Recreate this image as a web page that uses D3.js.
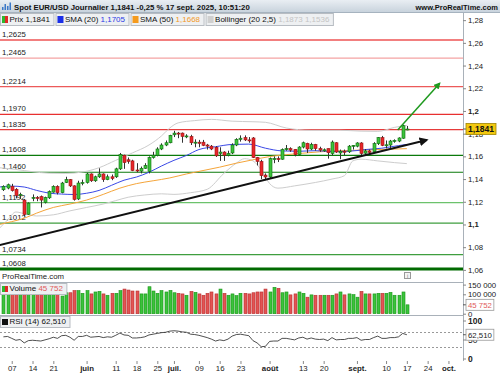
<!DOCTYPE html>
<html>
<head>
<meta charset="utf-8">
<script src="https://cdn.jsdelivr.net/npm/d3@7"></script>
<style>
body { margin: 0; background: #fff; }
svg { font-family: "Liberation Sans", Arial, sans-serif; font-size: 7.5px; }
</style>
</head>
<body>
<script>
//daily candles, one per trading day, starting Mon 5 May 2025 (index 0)
var open = [1.1306,1.1321,1.1336,1.1310,1.1255,1.1215,1.1090,1.1230,1.1238,1.1245,1.1195,1.1235,1.1285,1.1335,1.1280,1.1370,1.1395,1.1340,1.1225,1.1365,
    1.1370,1.1445,1.1385,1.1420,1.1445,1.1395,1.1420,1.1420,1.1490,1.1610,1.1570,1.1560,1.1480,1.1470,1.1495,1.1468,1.1590,1.1610,1.1665,1.1700,
    1.1720,1.1790,1.1805,1.1805,1.1775,1.1775,1.1720,1.1725,1.1725,1.1700,1.1690,1.1680,1.1625,1.1638,1.1610,1.1630,1.1700,1.1750,1.1765,1.1745,
    1.1762,1.1590,1.1555,1.1435,1.1418,1.1575,1.1580,1.1575,1.1660,1.1668,1.1662,1.1615,1.1682,1.1715,1.1665,1.1705,1.1668,1.1650,1.1668,1.1625,
    1.1720,1.1630,1.1645,1.1640,1.1690,1.1690,1.1718,1.1628,1.1648,1.1640,1.1712,1.1765,1.1697,1.1700,1.1735,1.1735,1.1760,1.1835];
var high = [1.1345,1.1360,1.1358,1.1320,1.1280,1.1225,1.1195,1.1265,1.1250,1.1255,1.1245,1.1300,1.1345,1.1345,1.1375,1.1420,1.1400,1.1345,1.1385,1.1395,
    1.1455,1.1450,1.1430,1.1495,1.1450,1.1440,1.1440,1.1500,1.1630,1.1615,1.1590,1.1570,1.1540,1.1510,1.1540,1.1600,1.1640,1.1680,1.1715,1.1740,
    1.1790,1.1825,1.1815,1.1810,1.1795,1.1790,1.1750,1.1745,1.1745,1.1710,1.1700,1.1690,1.1680,1.1645,1.1650,1.1715,1.1760,1.1785,1.1785,1.1770,
    1.1770,1.1595,1.1570,1.1450,1.1590,1.1600,1.1600,1.1670,1.1700,1.1680,1.1665,1.1690,1.1730,1.1720,1.1720,1.1710,1.1685,1.1670,1.1670,1.1740,
    1.1725,1.1660,1.1660,1.1700,1.1700,1.1725,1.1725,1.1665,1.1660,1.1725,1.1770,1.1780,1.1740,1.1745,1.1750,1.1768,1.1878,1.1868];
var low = [1.1295,1.1310,1.1290,1.1230,1.1225,1.1070,1.1085,1.1205,1.1205,1.1150,1.1185,1.1225,1.1280,1.1265,1.1275,1.1365,1.1330,1.1210,1.1215,1.1345,
    1.1360,1.1375,1.1375,1.1410,1.1375,1.1390,1.1390,1.1410,1.1480,1.1490,1.1535,1.1470,1.1460,1.1450,1.1490,1.1450,1.1580,1.1600,1.1655,1.1690,
    1.1715,1.1770,1.1760,1.1720,1.1760,1.1700,1.1680,1.1680,1.1690,1.1660,1.1655,1.1595,1.1560,1.1560,1.1600,1.1620,1.1690,1.1730,1.1735,1.1720,
    1.1585,1.1520,1.1400,1.1390,1.1410,1.1540,1.1550,1.1570,1.1650,1.1640,1.1600,1.1610,1.1670,1.1630,1.1655,1.1650,1.1640,1.1640,1.1580,1.1610,
    1.1630,1.1575,1.1610,1.1630,1.1660,1.1680,1.1605,1.1610,1.1620,1.1630,1.1700,1.1690,1.1670,1.1670,1.1720,1.1725,1.1755,1.1830];
var close = [1.1336,1.1350,1.1298,1.1255,1.1265,1.1088,1.1188,1.1238,1.1232,1.1215,1.1238,1.1290,1.1335,1.1280,1.1365,1.1395,1.1340,1.1220,1.1365,1.1370,
    1.1445,1.1385,1.1420,1.1445,1.1395,1.1420,1.1405,1.1490,1.1615,1.1545,1.1555,1.1475,1.1478,1.1495,1.1520,1.1590,1.1610,1.1665,1.1700,1.1720,
    1.1785,1.1805,1.1800,1.1775,1.1780,1.1720,1.1725,1.1715,1.1697,1.1690,1.1665,1.1605,1.1638,1.1610,1.1625,1.1700,1.1750,1.1760,1.1745,1.1742,
    1.1590,1.1555,1.1430,1.1418,1.1580,1.1580,1.1575,1.1660,1.1668,1.1655,1.1615,1.1682,1.1720,1.1665,1.1705,1.1668,1.1655,1.1658,1.1632,1.1726,
    1.1638,1.1645,1.1640,1.1690,1.1697,1.1718,1.1625,1.1648,1.1635,1.1712,1.1765,1.1697,1.1702,1.1735,1.1740,1.1762,1.1870,1.1841];

//volume in thousands
var volume = [158,162,155,150,148,170,165,160,152,150,155,148,150,152,
    91,108,108,119,119,105,119,102,112,115,102,95,105,105,119,127,122,117,117,102,102,139,117,105,119,112,
    120,108,105,102,95,115,110,102,95,105,112,102,127,105,95,102,93,105,105,102,
    108,112,112,127,112,136,131,108,112,97,102,112,105,85,97,95,95,95,95,95,
    102,112,97,102,98,85,115,102,102,102,105,105,105,110,95,95,112,45.752];

var rsi = [57,58,53,48,50,41,47,48,47,46,49,52,56,53,60,61,56,48,58,58,
    61,56,57,58,55,57,56,61,67,62,61,54,54,55,57,62,64,66,68,69,
    72,73,72,70,69,64,63,61,58,55,51,46,49,47,51,59,63,64,62,60,
    47,41,31,32,45,46,46,53,53,51,49,54,56,51,54,51,50,51,47,55,
    49,50,50,53,53,55,48,50,50,55,59,53,53,55,55,57,66,62.51];

//indicator lines read at sampled day indexes: [index, value]
var sma20 = [[-1,1.1330],[2,1.1338],[5,1.1330],[8,1.1300],[11,1.1276],[14,1.1268],[17,1.1264],[20,1.1275],[23,1.1300],
    [26,1.1345],[29,1.1390],[32,1.1418],[35,1.1460],[38,1.1515],[41,1.1565],[44,1.1608],[47,1.1660],[51,1.1685],
    [55,1.1705],[59,1.1708],[63,1.1672],[67,1.1648],[71,1.1645],[75,1.1650],[79,1.1643],[83,1.1645],[87,1.1660],
    [91,1.1672],[95,1.1695],[97,1.1705]];
var sma50 = [[-1,1.1000],[2,1.1025],[5,1.1055],[8,1.1100],[12,1.1150],[16,1.1180],[20,1.1215],[24,1.1265],[28,1.1320],
    [32,1.1360],[36,1.1385],[40,1.1410],[44,1.1445],[48,1.1475],[52,1.1505],[56,1.1540],[60,1.1570],[64,1.1598],
    [68,1.1615],[72,1.1628],[76,1.1640],[80,1.1648],[84,1.1653],[88,1.1658],[92,1.1662],[97,1.1668]];
var bollUp = [[-1,1.1500],[3,1.1485],[7,1.1465],[11,1.1452],[15,1.1450],[19,1.1462],[23,1.1500],[27,1.1565],[31,1.1630],
    [35,1.1700],[38,1.1780],[40,1.1850],[42,1.1895],[46,1.1915],[50,1.1926],[55,1.1910],[60,1.1905],[63,1.1900],
    [68,1.1850],[74,1.1830],[81,1.1830],[86,1.1822],[90,1.1820],[94,1.1855],[97,1.1873]];
var bollDn = [[-1,1.0965],[1,1.1040],[3,1.1110],[5,1.1095],[8,1.1075],[12,1.1085],[16,1.1120],[20,1.1150],[24,1.1180],
    [27,1.1210],[30,1.1240],[34,1.1260],[38,1.1270],[41,1.1265],[45,1.1280],[49,1.1310],[53,1.1450],[56,1.1540],
    [58,1.1580],[60,1.1560],[62,1.1480],[64,1.1360],[66,1.1320],[70,1.1340],[75,1.1370],[79,1.1400],[82,1.1430],
    [84,1.1560],[86,1.1575],[90,1.1560],[94,1.1545],[97,1.1536]];

//support / resistance levels
var levels = [1.2625,1.2465,1.2214,1.1970,1.1835,1.1608,1.1460,1.1192,1.1012,1.0734,1.0608];

//hand drawn trend lines: [index, price]
var trendBlack = [[-2.8,1.0801],[101.8,1.1744]];
var trendGreen = [[94.8,1.1832],[104.9,1.2244]];

//axis ticks
var tickIdx = [2,7,12,20,27,32,37,41,47,52,57,64,72,77,85,92,97,102,107];
var tickLabels = ["07","14","21","juin","11","18","25","juil.","09","16","23","août","13","20","sept.","10","17","24","oct."];
var priceTicks = [1.06,1.08,1.10,1.12,1.14,1.16,1.18,1.20,1.22,1.24,1.26,1.28];
var volTicks = [0,100,150];
var rsiTicks = [0,50,100];

var lastPrice = 1.1841, lastVol = 45.752, lastRsi = 62.51;

setChart();

function setChart(){

    var width = 500, height = 375, plotW = 463;

    var fr = d3.formatLocale({decimal: ",", thousands: "\u00a0", grouping: [3], currency: ["", ""]});
    var fmtTick = fr.format(".2~f"),
        fmtLevel = fr.format(".4f"),
        fmtVol = fr.format(",d");

    var svg = d3.select("body")
        .append("svg")
        .attr("width", width)
        .attr("height", height);

    var x = d3.scaleLinear().domain([-0.82, 110.5]).range([0, plotW]);
    var y = d3.scaleLinear().domain([1.0502, 1.2863]).range([281, 13]);
    var yVol = d3.scaleLinear().domain([0, 150]).range([313.7, 284.6]);
    var yRsi = d3.scaleLinear().domain([0, 100]).range([358.5, 320.5]);

    var defs = svg.append("defs");
    defs.append("clipPath").attr("id", "clipPrice")
        .append("rect").attr("x", 0).attr("y", 13).attr("width", plotW).attr("height", 268);
    defs.append("clipPath").attr("id", "clipVol")
        .append("rect").attr("x", 0).attr("y", 282).attr("width", plotW).attr("height", 33);
    var grad = defs.append("linearGradient").attr("id", "bar").attr("x1", 0).attr("x2", 0).attr("y1", 0).attr("y2", 1);
    grad.append("stop").attr("offset", 0).attr("stop-color", "#e9eef3");
    grad.append("stop").attr("offset", 1).attr("stop-color", "#c6d1db");
    [["arrBlack", "#111"], ["arrGreen", "#1f9a1f"]].forEach(function(m){
        defs.append("marker").attr("id", m[0])
            .attr("viewBox", "0 0 10 10").attr("refX", 8).attr("refY", 5)
            .attr("markerWidth", 4.5).attr("markerHeight", 4.5).attr("orient", "auto")
            .append("path").attr("d", "M0,0L10,5L0,10z").attr("fill", m[1]);
    });

    //price panel
    var price = svg.append("g").attr("clip-path", "url(#clipPrice)");

    var levelColor = ["#e60000","#f4a3a3","#ec5a5a","#e83030","#e63a3a","#0b7a0b","#0b7a0b","#6cc26c","#3f9e3f","#3f9e3f","#006a00"];
    var levelWidth = [1.2,1.2,1.2,1.2,1.2,1.2,1.2,1.2,1.2,1.2,3];

    price.selectAll(".level")
        .data(levels)
        .enter()
        .append("line")
        .attr("x1", 0).attr("x2", plotW)
        .attr("y1", function(d){ return y(d); })
        .attr("y2", function(d){ return y(d); })
        .attr("stroke", function(d, i){ return levelColor[i]; })
        .attr("stroke-width", function(d, i){ return levelWidth[i]; });

    price.selectAll(".levelLabel")
        .data(levels)
        .enter()
        .append("text")
        .attr("x", 2)
        .attr("y", function(d){ return y(d) - 3; })
        .attr("fill", "#222")
        .attr("font-size", 7.8)
        .text(function(d){ return fmtLevel(d); });

    var line = d3.line()
        .x(function(d){ return x(d[0]); })
        .y(function(d){ return y(d[1]); })
        .curve(d3.curveMonotoneX);

    [[bollUp, "#cdcdcd"], [bollDn, "#cdcdcd"], [sma50, "#f5a53a"], [sma20, "#3a48e6"]].forEach(function(s){
        price.append("path")
            .datum(s[0])
            .attr("d", line)
            .attr("fill", "none")
            .attr("stroke", s[1])
            .attr("stroke-width", 1);
    });

    var idx = d3.range(close.length);

    price.selectAll(".wick")
        .data(idx)
        .enter()
        .append("line")
        .attr("x1", function(k){ return Math.round(x(k)) + 0.5; })
        .attr("x2", function(k){ return Math.round(x(k)) + 0.5; })
        .attr("y1", function(k){ return y(high[k]); })
        .attr("y2", function(k){ return y(low[k]); })
        .attr("stroke", "#333")
        .attr("stroke-width", 1);

    price.selectAll(".body")
        .data(idx)
        .enter()
        .append("rect")
        .attr("x", function(k){ return Math.round(x(k)) - 1; })
        .attr("width", 3)
        .attr("y", function(k){ return y(Math.max(open[k], close[k])); })
        .attr("height", function(k){ return Math.max(1, Math.abs(y(open[k]) - y(close[k]))); })
        .attr("fill", function(k){ return close[k] >= open[k] ? "#3cc23c" : "#e8262a"; })
        .attr("stroke", function(k){ return close[k] >= open[k] ? "#0d6e0d" : "#9a1414"; })
        .attr("stroke-width", 0.6);

    price.append("line")
        .attr("x1", x(trendBlack[0][0])).attr("y1", y(trendBlack[0][1]))
        .attr("x2", x(trendBlack[1][0])).attr("y2", y(trendBlack[1][1]))
        .attr("stroke", "#111").attr("stroke-width", 2)
        .attr("marker-end", "url(#arrBlack)");

    price.append("line")
        .attr("x1", x(trendGreen[0][0])).attr("y1", y(trendGreen[0][1]))
        .attr("x2", x(trendGreen[1][0])).attr("y2", y(trendGreen[1][1]))
        .attr("stroke", "#1f9a1f").attr("stroke-width", 1.5)
        .attr("marker-end", "url(#arrGreen)");

    //volume panel
    var vol = svg.append("g").attr("clip-path", "url(#clipVol)");
    vol.selectAll(".vbar")
        .data(idx)
        .enter()
        .append("rect")
        .attr("x", function(k){ return Math.round(x(k)) - 1; })
        .attr("width", 3)
        .attr("y", function(k){ return yVol(volume[k]); })
        .attr("height", function(k){ return yVol(0) - yVol(volume[k]); })
        .attr("fill", function(k){ return close[k] >= open[k] ? "#3cc23c" : "#e35454"; })
        .attr("stroke", function(k){ return close[k] >= open[k] ? "#179617" : "#b83030"; })
        .attr("stroke-width", 0.6);

    //rsi panel
    [70, 30].forEach(function(v){
        svg.append("line")
            .attr("x1", 0).attr("x2", plotW)
            .attr("y1", Math.round(yRsi(v)) + 0.5).attr("y2", Math.round(yRsi(v)) + 0.5)
            .attr("stroke", "#999").attr("stroke-dasharray", "2,2");
    });
    svg.append("path")
        .datum(idx)
        .attr("d", d3.line()
            .x(function(k){ return x(k); })
            .y(function(k){ return yRsi(rsi[k]); }))
        .attr("fill", "none")
        .attr("stroke", "#222")
        .attr("stroke-width", 0.8);

    //panel separators and right axis line
    [282.5, 315.5].forEach(function(v){
        svg.append("line").attr("x1", 0).attr("x2", plotW).attr("y1", v).attr("y2", v)
            .attr("stroke", "#a9b1b9");
    });
    svg.append("line").attr("x1", plotW + 0.5).attr("x2", plotW + 0.5).attr("y1", 13).attr("y2", 361)
        .attr("stroke", "#a9b1b9");

    //right axes
    var priceAxis = svg.append("g")
        .attr("transform", "translate(" + plotW + ",0)")
        .call(d3.axisRight(y).tickValues(priceTicks).tickSize(3).tickPadding(2).tickFormat(fmtTick));
    priceAxis.selectAll("text").attr("font-weight", function(d){ return (d === 1.10 || d === 1.20) ? "bold" : null; });

    var volAxis = svg.append("g")
        .attr("transform", "translate(" + plotW + ",0)")
        .call(d3.axisRight(yVol).tickValues(volTicks).tickSize(3).tickPadding(2)
            .tickFormat(function(d){ return fmtVol(d * 1000); }));

    var rsiAxis = svg.append("g")
        .attr("transform", "translate(" + plotW + ",0)")
        .call(d3.axisRight(yRsi).tickValues(rsiTicks).tickSize(3).tickPadding(2));

    [priceAxis, volAxis, rsiAxis].forEach(function(a){
        a.select(".domain").remove();
        a.selectAll("line").attr("stroke", "#888");
        a.selectAll("text").attr("fill", "#222").style("font-family", "Liberation Sans, Arial, sans-serif");
        a.attr("font-size", 7.8);
    });
    rsiAxis.selectAll("text").attr("font-weight", function(d){ return d === 50 ? null : "bold"; }).attr("font-size", 8.5);

    //time axis
    var timeAxis = svg.append("g")
        .attr("transform", "translate(0,361)")
        .call(d3.axisBottom(x).tickValues(tickIdx).tickSize(3).tickPadding(1)
            .tickFormat(function(d, i){ return tickLabels[i]; }));
    timeAxis.select(".domain").remove();
    timeAxis.attr("font-size", 7.8);
    timeAxis.selectAll("line").attr("stroke", "#888");
    timeAxis.selectAll("text")
        .attr("fill", "#222")
        .style("font-family", "Liberation Sans, Arial, sans-serif")
        .attr("font-weight", function(d, i){ return isNaN(+tickLabels[i]) ? "bold" : null; });

    //value boxes on the right axis
    function valueBox(yy, label, fill, stroke, color, bold){
        var g = svg.append("g");
        var t = g.append("text")
            .attr("x", plotW + 5).attr("y", yy + 3)
            .attr("fill", color)
            .attr("font-size", bold ? 8.5 : 7.8)
            .attr("font-weight", bold ? "bold" : null)
            .text(label);
        var w = t.node().getComputedTextLength();
        g.insert("rect", "text")
            .attr("x", plotW + 3).attr("y", yy - 5.5)
            .attr("width", w + 4).attr("height", 11)
            .attr("fill", fill).attr("stroke", stroke).attr("stroke-width", 0.8);
        g.insert("line", "rect")
            .attr("x1", plotW).attr("x2", plotW + 3).attr("y1", yy).attr("y2", yy)
            .attr("stroke", "#555");
    }
    valueBox(y(lastPrice), fr.format(".4f")(lastPrice), "#f2c80f", "#a08400", "#111", true);
    valueBox(yVol(lastVol), fmtVol(Math.round(lastVol * 1000)), "#fff", "#999", "#e05a5a", false);
    valueBox(yRsi(lastRsi), fr.format(".3f")(lastRsi), "#fff", "#999", "#222", false);

    //title bar
    svg.append("rect").attr("x", 0).attr("y", 0).attr("width", width).attr("height", 13)
        .attr("fill", "url(#bar)");
    svg.append("line").attr("x1", 0).attr("x2", width).attr("y1", 12.5).attr("y2", 12.5).attr("stroke", "#a6b3bf");
    [[2, 7], [4.5, 4], [7, 6], [9.5, 2.5]].forEach(function(b){
        svg.append("rect").attr("x", b[0]).attr("y", b[1]).attr("width", 1.5).attr("height", 10 - b[1])
            .attr("fill", "#3a78c8");
    });
    svg.append("text").attr("x", 14).attr("y", 9.5).attr("font-weight", "bold").attr("fill", "#111")
        .attr("font-size", 7.8)
        .text("Spot EUR/USD Journalier 1,1841 -0,25 % 17 sept. 2025, 10:51:20");
    svg.append("text").attr("x", 498).attr("y", 9.5).attr("text-anchor", "end")
        .attr("font-weight", "bold").attr("fill", "#111").text("www.ProRealTime.com");

    //legend boxes
    function legendBox(x0, y0, h, swatch, parts){
        var g = svg.append("g");
        var t = g.append("text").attr("x", x0 + 9.5).attr("y", y0 + h - 3).attr("font-size", 8);
        parts.forEach(function(p){
            t.append("tspan").attr("fill", p[1]).text(p[0]);
        });
        var w = t.node().getComputedTextLength() + 13;
        g.insert("rect", "text").attr("x", x0 + 0.5).attr("y", y0 + 0.5)
            .attr("width", w).attr("height", h)
            .attr("fill", "#eef0f2").attr("stroke", "#b7bcc2");
        swatch.forEach(function(c, i){
            g.append("rect")
                .attr("x", x0 + 2 + i * 6 / swatch.length).attr("y", y0 + 3)
                .attr("width", 6 / swatch.length).attr("height", h - 5)
                .attr("fill", c);
        });
        return x0 + w + 2;
    }
    var lx = 0;
    lx = legendBox(lx, 13, 12, ["#2db82d", "#e02828"], [["Prix 1,1841", "#111"]]);
    lx = legendBox(lx, 13, 12, ["#1a2ee8"], [["SMA (20) ", "#111"], ["1,1705", "#2a3ae6"]]);
    lx = legendBox(lx, 13, 12, ["#f59b1e"], [["SMA (50) ", "#111"], ["1,1668", "#f29a2a"]]);
    lx = legendBox(lx, 13, 12, ["#cfcfcf"], [["Bollinger (20 2,5) ", "#111"], ["1,1873  1,1536", "#c4c4c4"]]);

    legendBox(0, 283, 11, ["#2db82d", "#e02828"], [["Volume ", "#111"], ["45 752", "#e05a5a"]]);
    legendBox(0, 316, 11, ["#111"], [["RSI (14) 62,510", "#111"]]);

    svg.append("text").attr("x", 2).attr("y", 279).attr("fill", "#222").attr("font-size", 7.8).text("ProRealTime.com");

    //info icon
    svg.append("rect").attr("x", 404.5).attr("y", 272.5).attr("width", 6).attr("height", 6)
        .attr("fill", "#f4f4f4").attr("stroke", "#999");
    svg.append("text").attr("x", 407.5).attr("y", 277.5).attr("text-anchor", "middle")
        .attr("font-size", 5.5).attr("fill", "#777").text("i");
};
</script>
</body>
</html>
